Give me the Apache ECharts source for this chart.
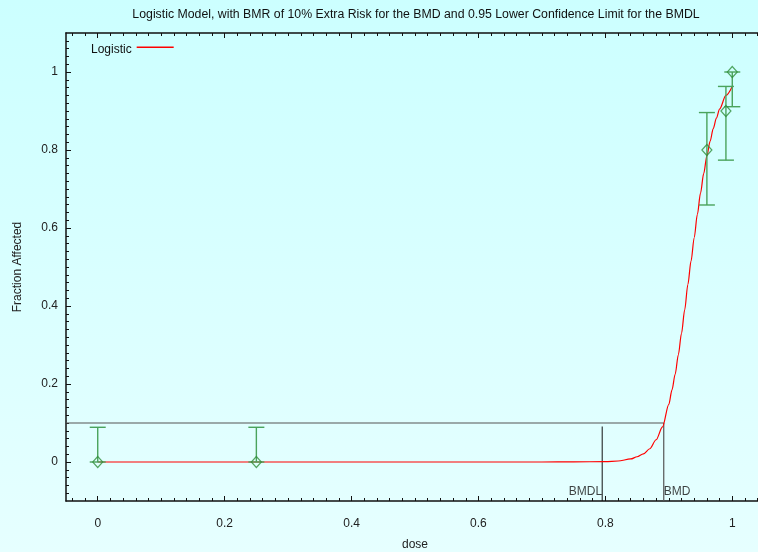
<!DOCTYPE html>
<html>
<head>
<meta charset="utf-8">
<script src="https://cdn.jsdelivr.net/npm/echarts@6/dist/echarts.min.js"></script>
<style>
  html, body { margin: 0; padding: 0; }
  #chart {
    width: 758px; height: 552px;
    background: linear-gradient(to bottom, #ccffff 0%, #e6ffff 100%);
  }
</style>
</head>
<body>
<div id="chart"></div>
<script>
// Observed dose groups: dose, fraction affected and confidence limits
const doseLevels   = [0, 0.25, 0.96, 0.99, 1.0];
const fracAffected = [0, 0, 0.8, 0.9, 1.0];
const lowerCL      = [0, 0, 0.659, 0.774, 0.911];
const upperCL      = [0.089, 0.089, 0.896, 0.963, 1.0];

// Fitted logistic curve
const curveDose = [0, 0.1, 0.2, 0.3, 0.4, 0.5, 0.6, 0.7, 0.75, 0.8, 0.82, 0.84, 0.85, 0.86, 0.87,
                   0.88, 0.89, 0.9, 0.905, 0.91, 0.915, 0.92, 0.925, 0.93, 0.935, 0.94, 0.945,
                   0.95, 0.955, 0.96, 0.965, 0.97, 0.975, 0.98, 0.99, 1.0];
const curveFrac = [0, 0, 0, 0, 0, 0, 0, 0, 0.0004, 0.001, 0.0026, 0.0078, 0.0135, 0.021, 0.034,
                   0.057, 0.09, 0.148, 0.185, 0.225, 0.275, 0.33, 0.39, 0.455, 0.515, 0.575, 0.635,
                   0.69, 0.74, 0.785, 0.822, 0.855, 0.882, 0.905, 0.94, 0.963];

// Benchmark values
const bmr = 0.1;
const bmd = 0.892;
const bmdl = 0.795;
const bmdlTop = 0.091;

// Axis ticks
const xMajorTicks = [0, 0.2, 0.4, 0.6, 0.8, 1];
const yMajorTicks = [0, 0.2, 0.4, 0.6, 0.8, 1];
const xRange = [-0.05, 1.05];
const yRange = [-0.1, 1.1];

function minorTicks(from, to) {
  const out = [];
  for (let i = Math.round(from * 50); i <= Math.round(to * 50); i++) out.push(i / 50);
  return out;
}
const xMinorTicks = minorTicks(-0.04, 1.04);
const yMinorTicks = minorTicks(-0.08, 1.08);

const FONT = "'Liberation Sans', Arial, sans-serif";
const fmt = v => String(Math.round(v * 10) / 10);

function makeAxis(dim, position, range, ticks, len, withLine, withLabels, extra) {
  const ax = {
    type: 'value', position: position, min: range[0], max: range[1],
    splitLine: { show: false },
    axisLine: { show: withLine, onZero: false, lineStyle: { color: '#111', width: 1.5 } },
    axisTick: { show: true, inside: true, length: len, customValues: ticks,
                lineStyle: { color: '#111', width: 1 } },
    axisLabel: withLabels
      ? { show: true, customValues: ticks, formatter: fmt, color: '#222',
          fontFamily: FONT, fontSize: 12, margin: dim === 'x' ? 17 : 8 }
      : { show: false }
  };
  return Object.assign(ax, extra || {});
}

const chart = echarts.init(document.getElementById('chart'), null, { renderer: 'canvas' });

const option = {
  backgroundColor: 'transparent',
  animation: false,
  title: {
    text: 'Logistic Model, with BMR of 10% Extra Risk for the BMD and 0.95 Lower Confidence Limit for the BMDL',
    left: 416, top: 9, textAlign: 'center', padding: 0,
    textStyle: { fontFamily: FONT, fontSize: 12.3, fontWeight: 'normal', color: '#111' }
  },
  legend: {
    // legend key: short red stroke sitting slightly above the text middle
    data: [{ name: 'Logistic', icon: 'path://M0,0H37V1.5H0Z M0,7L0,7Z' }],
    left: 91, top: 44, padding: 0, align: 'right',
    itemWidth: 37, itemHeight: 7,
    textStyle: { fontFamily: FONT, fontSize: 12, color: '#111' }
  },
  grid: { left: 66, top: 33, width: 698, height: 468, containLabel: false, outerBoundsMode: 'none' },
  xAxis: [
    makeAxis('x', 'bottom', xRange, xMajorTicks, 5, true, true, {
      name: 'dose', nameLocation: 'middle', nameGap: 38,
      nameTextStyle: { fontFamily: FONT, fontSize: 12, color: '#222' }
    }),
    makeAxis('x', 'bottom', xRange, xMinorTicks, 3, false, false),
    makeAxis('x', 'top', xRange, xMajorTicks, 5, true, false),
    makeAxis('x', 'top', xRange, xMinorTicks, 3, false, false)
  ],
  yAxis: [
    makeAxis('y', 'left', yRange, yMajorTicks, 5, true, true, {
      name: 'Fraction Affected', nameLocation: 'middle', nameGap: 42, nameRotate: 90,
      nameTextStyle: { fontFamily: FONT, fontSize: 12, color: '#222' }
    }),
    makeAxis('y', 'left', yRange, yMinorTicks, 3, false, false)
  ],
  series: [
    {
      // BMR level across to the BMD, then down to the axis
      name: 'bmd', type: 'line', silent: true, symbol: 'none',
      data: [[xRange[0], bmr], [bmd, bmr], [bmd, yRange[0]]],
      lineStyle: { color: '#555', width: 1.2 }, z: 2
    },
    {
      name: 'bmdl', type: 'line', silent: true, symbol: 'none',
      data: [[bmdl, yRange[0]], [bmdl, bmdlTop]],
      lineStyle: { color: '#111', width: 1 }, z: 2
    },
    {
      name: 'markers', type: 'scatter', silent: true, symbolSize: 0,
      data: [
        { value: [bmdl, yRange[0]], label: { formatter: 'BMDL', position: 'left', distance: 0 } },
        { value: [bmd, yRange[0]], label: { formatter: 'BMD', position: 'right', distance: 0 } }
      ],
      label: { show: true, offset: [0, -9], fontFamily: FONT, fontSize: 12, color: '#111' },
      z: 3
    },
    {
      name: 'Logistic', type: 'line', symbol: 'none', smooth: 0.3, smoothMonotone: 'x',
      data: curveDose.map((d, i) => [d, curveFrac[i]]),
      lineStyle: { color: '#ff0000', width: 1.2 }, itemStyle: { color: '#ff0000' }, z: 4
    },
    {
      name: 'limits', type: 'custom', silent: true,
      data: doseLevels.map((d, i) => [d, lowerCL[i], upperCL[i]]),
      renderItem: function (params, api) {
        const lo = api.coord([api.value(0), api.value(1)]);
        const hi = api.coord([api.value(0), api.value(2)]);
        const hw = 8;
        const style = { stroke: '#4aa35c', lineWidth: 1.4 };
        return {
          type: 'group',
          children: [
            { type: 'line', shape: { x1: lo[0], y1: lo[1], x2: hi[0], y2: hi[1] }, style: style },
            { type: 'line', shape: { x1: hi[0] - hw, y1: hi[1], x2: hi[0] + hw, y2: hi[1] }, style: style },
            { type: 'line', shape: { x1: lo[0] - hw, y1: lo[1], x2: lo[0] + hw, y2: lo[1] }, style: style }
          ]
        };
      },
      z: 5
    },
    {
      name: 'observed', type: 'scatter', symbol: 'diamond', symbolSize: [10, 11],
      data: doseLevels.map((d, i) => [d, fracAffected[i]]),
      itemStyle: { color: 'rgba(0,0,0,0)', borderColor: '#2f8f3a', borderWidth: 1.2 },
      z: 6
    }
  ]
};

chart.setOption(option);
</script>
</body>
</html>
